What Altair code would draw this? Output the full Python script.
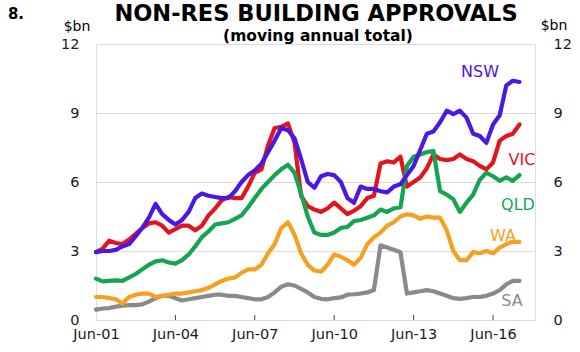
import altair as alt
import pandas as pd

# ---------------- data (quarterly, Jun-01 .. Jun-17) ----------------
N_Q = 65
dates = []
for q in range(N_Q):
    m = 6 + 3 * q
    yr = 2001 + (m - 1) // 12
    mm = (m - 1) % 12 + 1
    dates.append(f"{yr}-{mm:02d}-01T00:00:00")

nsw = [2.95, 3.0, 3.0, 3.05, 3.2, 3.3, 3.65, 4.0, 4.45, 5.05,
       4.6, 4.35, 4.15, 4.35, 4.7, 5.3, 5.5, 5.4, 5.35, 5.3,
       5.3, 5.6, 6.0, 6.3, 6.5, 6.8, 7.3, 7.8, 8.35, 8.25,
       7.9, 7.0, 6.0, 5.75, 6.25, 6.35, 6.3, 6.0, 5.3, 5.1,
       5.8, 5.7, 5.7, 5.6, 5.55, 5.8, 5.9, 6.3, 6.7, 7.4,
       8.1, 8.2, 8.6, 9.1, 8.95, 9.1, 8.8, 8.1, 8.0, 7.7,
       8.5, 8.9, 10.2, 10.4, 10.35]
vic = [2.95, 3.1, 3.45, 3.35, 3.3, 3.5, 3.75, 4.0, 4.2, 4.25,
       4.1, 3.8, 3.95, 4.1, 4.1, 3.9, 4.1, 4.55, 4.85, 5.2,
       5.35, 5.3, 5.3, 5.8, 6.4, 6.55, 7.6, 8.35, 8.4, 8.55,
       7.7, 5.4, 4.95, 4.8, 4.7, 4.85, 5.1, 4.85, 4.6, 4.75,
       4.95, 5.3, 5.4, 6.8, 6.9, 6.85, 7.1, 5.8, 6.0, 6.2,
       6.6, 7.2, 7.0, 6.95, 7.0, 7.2, 7.0, 6.9, 6.7, 6.55,
       6.85, 7.8, 8.0, 8.1, 8.5]
qld = [1.8, 1.68, 1.7, 1.72, 1.7, 1.85, 2.0, 2.2, 2.4, 2.55,
       2.6, 2.5, 2.45, 2.6, 2.85, 3.2, 3.6, 3.85, 4.15, 4.2,
       4.25, 4.4, 4.55, 4.9, 5.3, 5.7, 6.0, 6.3, 6.55, 6.75,
       6.4, 5.5, 4.5, 3.8, 3.7, 3.7, 3.8, 4.0, 4.05, 4.3,
       4.35, 4.45, 4.55, 4.8, 4.7, 4.85, 4.9, 6.7, 7.1, 7.2,
       7.3, 7.35, 5.6, 5.45, 5.25, 4.7, 5.1, 5.45, 6.1, 6.4,
       6.25, 6.05, 6.2, 6.05, 6.3]
wa = [1.0, 1.0, 0.95, 0.9, 0.72, 1.0, 1.1, 1.15, 1.15, 1.0,
      1.05, 1.1, 1.15, 1.15, 1.2, 1.25, 1.3, 1.4, 1.55, 1.7,
      1.8, 1.85, 2.05, 2.2, 2.2, 2.4, 2.9, 3.3, 4.0, 4.25,
      3.7, 2.9, 2.4, 2.15, 2.1, 2.4, 2.85, 2.75, 2.6, 2.4,
      2.7, 3.3, 3.6, 3.8, 4.1, 4.25, 4.5, 4.6, 4.55, 4.4,
      4.5, 4.45, 4.45, 3.9, 3.0, 2.6, 2.6, 2.95, 2.9, 3.0,
      2.9, 3.15, 3.3, 3.4, 3.4]
sa = [0.45, 0.5, 0.52, 0.58, 0.62, 0.65, 0.65, 0.68, 0.8, 0.95,
      1.05, 1.05, 0.95, 0.85, 0.9, 0.95, 1.0, 1.05, 1.1, 1.1,
      1.05, 1.05, 1.0, 0.95, 0.9, 0.9, 1.0, 1.2, 1.45, 1.55,
      1.5, 1.35, 1.2, 1.0, 0.92, 0.9, 0.95, 0.98, 1.1, 1.12,
      1.15, 1.2, 1.3, 3.25, 3.15, 3.05, 2.95, 1.15, 1.2, 1.25,
      1.3, 1.25, 1.15, 1.05, 0.95, 0.92, 0.95, 1.0, 1.0, 1.05,
      1.15, 1.3, 1.55, 1.7, 1.7]

states = ["SA", "WA", "VIC", "QLD", "NSW"]          # drawing order
series = {"NSW": nsw, "VIC": vic, "QLD": qld, "WA": wa, "SA": sa}
colors = {"NSW": "#4a17e3", "VIC": "#e4141c", "QLD": "#15a552",
          "WA": "#f5a01e", "SA": "#8a8a8a"}

y_ticks = [0, 3, 6, 9, 12]
x_tick_years = [2001, 2004, 2007, 2010, 2013, 2016]
tick_dates = [f"{y}-06-01T00:00:00" for y in x_tick_years[1:]]

# ---------------- chart ----------------
FONT = "DejaVu Sans"
x_dom = alt.Scale(domain=[alt.DateTime(year=2001, month=6, date=1),
                          alt.DateTime(year=2018, month=1, date=1)])
y_scale = alt.Scale(domain=[0, 12], nice=False, zero=True)

x_axis = alt.Axis(values=[alt.DateTime(year=y, month=6, date=1) for y in x_tick_years],
                  format="%b-%y", title=None, labelFlush=False, domain=False,
                  ticks=False, grid=False, labelPadding=7, labelFontSize=14.5,
                  labelFont=FONT, labelColor="#1a1a1a", orient="bottom")
y_axis_left = alt.Axis(values=y_ticks, title=None, domain=False, ticks=False,
                       grid=True, gridColor="#dcdcdc", gridWidth=1,
                       labelPadding=17, labelFontSize=14.5, labelFont=FONT,
                       labelColor="#1a1a1a", orient="left")
y_axis_right = alt.Axis(values=y_ticks, title=None, domain=False, ticks=False,
                        grid=False, labelPadding=18, labelFontSize=14.5,
                        labelFont=FONT, labelColor="#1a1a1a", orient="right")

x_enc = alt.X("date:T", scale=x_dom, axis=x_axis)

line_layers = []
for st in states:
    d = pd.DataFrame({"date": dates, "value": series[st]})
    line_layers.append(
        alt.Chart(d).mark_line(color=colors[st], strokeWidth=4.2,
                               strokeJoin="round", strokeCap="round").encode(
            x=x_enc,
            y=alt.Y("value:Q", scale=y_scale, axis=y_axis_left),
        )
    )

ticks_layer = alt.Chart(pd.DataFrame({"date": tick_dates})).mark_rule(
    color="#444444", strokeWidth=1).encode(
    x=x_enc, y=alt.value(276), y2=alt.value(271))

lines = alt.layer(*line_layers, ticks_layer)

right_axis = alt.Chart(pd.DataFrame({"date": dates, "value": nsw})).mark_line(
    strokeOpacity=0).encode(
    x=x_enc,
    y=alt.Y("value:Q", scale=y_scale, axis=y_axis_right))


def txt(s, x, y, size, color="#000000", weight="normal", align="center"):
    return alt.Chart(pd.DataFrame({"t": [s]})).mark_text(
        font=FONT, fontSize=size, fontWeight=weight, color=color,
        align=align, baseline="middle").encode(
        text="t:N", x=alt.value(x), y=alt.value(y))


annotations = [
    txt("8.", -80, -30, 15, weight="bold"),
    txt("NON-RES BUILDING APPROVALS", 220, -30, 22.5, weight="bold"),
    txt("(moving annual total)", 222, -8, 15.5, weight="bold"),
    txt("$bn", -19, -17, 14),
    txt("$bn", 458, -18, 14),
    txt("NSW", 384, 28, 16, color=colors["NSW"]),
    txt("VIC", 426, 116, 16, color=colors["VIC"]),
    txt("QLD", 422, 161, 16, color=colors["QLD"]),
    txt("WA", 407, 192, 16, color=colors["WA"]),
    txt("SA", 416, 257, 16, color=colors["SA"]),
]

chart = alt.layer(lines, right_axis, *annotations).resolve_scale(
    y="independent").properties(
    width=439, height=276,
    autosize=alt.AutoSizeParams(type="none"),
    padding={"left": 96, "top": 44, "right": 45, "bottom": 32},
).configure_view(stroke="#3a3a3a", strokeWidth=1.3).configure(background="white")

chart.save("out.html", embed_options={"renderer": "svg", "actions": False})
